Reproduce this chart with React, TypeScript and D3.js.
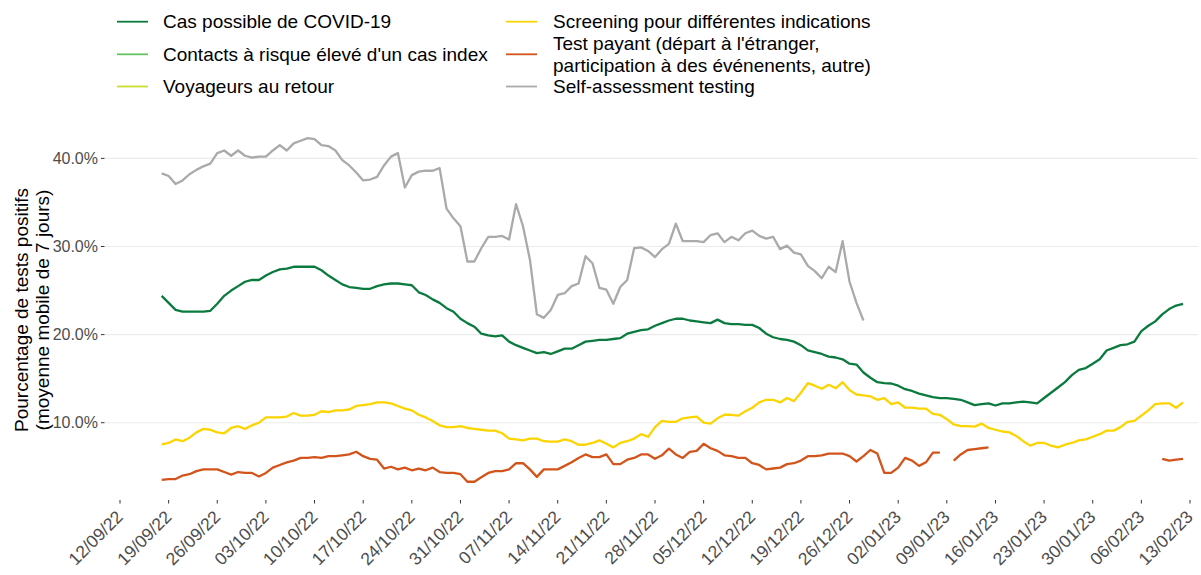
import React from "react";
import * as d3 from "d3";

// ---- Data (daily 7-day moving averages, % positive) ----
const startDate = new Date(2022, 8, 18);

const casPossible = [
  24.4, 23.6, 22.8, 22.6, 22.6, 22.6, 22.6, 22.7, 23.5, 24.4, 25.0, 25.5, 26.0, 26.2, 26.2, 26.7, 27.1, 27.4, 27.5, 27.7,
  27.7, 27.7, 27.7, 27.3, 26.7, 26.2, 25.7, 25.4, 25.3, 25.2, 25.2, 25.5, 25.7, 25.8, 25.8, 25.7, 25.6, 24.8, 24.5, 24.0,
  23.6, 23.0, 22.6, 21.8, 21.3, 20.9, 20.1, 19.9, 19.8, 19.9, 19.2, 18.8, 18.5, 18.2, 17.9, 18.0, 17.8, 18.1, 18.4, 18.4,
  18.8, 19.2, 19.3, 19.4, 19.4, 19.5, 19.6, 20.1, 20.3, 20.5, 20.6, 21.0, 21.3, 21.6, 21.8, 21.8, 21.6, 21.5,
  21.4, 21.3, 21.7, 21.3, 21.2, 21.2, 21.1, 21.1, 20.75, 20.1, 19.7, 19.5, 19.4, 19.2, 18.8, 18.2, 18.0, 17.8, 17.5, 17.4,
  17.2, 16.7, 16.6, 15.7, 15.1, 14.6, 14.5, 14.45, 14.2, 13.8, 13.6, 13.3, 13.1, 12.9, 12.8, 12.8, 12.7, 12.6, 12.3,
  12.0, 12.1, 12.2, 11.95, 12.2, 12.2, 12.3, 12.4, 12.3, 12.2, 12.8, 13.4, 14.0, 14.6, 15.4, 16.0, 16.2, 16.7, 17.2, 18.2,
  18.5, 18.8, 18.9, 19.2, 20.4, 21.0, 21.5, 22.3, 22.9, 23.3, 23.5,
];

const contactsRisque: (number | null)[] = [];
const voyageursRetour: (number | null)[] = [];

const screening = [
  7.55, 7.7, 8.1, 7.9, 8.3, 8.9, 9.3, 9.2, 8.9, 8.8, 9.4, 9.6, 9.3, 9.7, 10.0, 10.6, 10.6, 10.6, 10.7, 11.1,
  10.8, 10.8, 10.9, 11.3, 11.2, 11.4, 11.4, 11.5, 11.9, 12.0, 12.1, 12.3, 12.3, 12.2, 11.9, 11.6, 11.4, 10.9, 10.6,
  10.2, 9.7, 9.5, 9.5, 9.6, 9.4, 9.3, 9.2, 9.1, 9.1, 8.8, 8.2, 8.1, 8.0, 8.2, 8.2, 7.9, 7.85, 7.85, 8.1,
  7.9, 7.5, 7.5, 7.7, 8.0, 7.6, 7.2, 7.7, 7.9, 8.2, 8.7, 8.4, 9.5, 10.2, 10.1, 10.1, 10.5, 10.6, 10.7,
  10.0, 9.9, 10.5, 10.9, 10.9, 10.8, 11.3, 11.7, 12.3, 12.6, 12.6, 12.3, 12.8, 12.45, 13.4, 14.5, 14.2, 13.85, 14.3, 13.9,
  14.6, 13.7, 13.2, 13.1, 13.0, 12.6, 12.8, 12.1, 12.3, 11.7, 11.7, 11.6, 11.6, 11.0, 10.9, 10.4, 9.8, 9.6, 9.6,
  9.55, 9.9, 9.4, 9.2, 9.0, 8.9, 8.5, 7.9, 7.4, 7.7, 7.7, 7.4, 7.2, 7.5, 7.7, 8.0, 8.1, 8.4, 8.7, 9.1,
  9.1, 9.5, 10.1, 10.2, 10.8, 11.4, 12.1, 12.2, 12.2, 11.7, 12.3,
];

const testPayant: (number | null)[] = [
  3.5, 3.6, 3.6, 4.0, 4.15, 4.5, 4.7, 4.7, 4.7, 4.4, 4.1, 4.4, 4.3, 4.3, 3.9, 4.3, 4.9, 5.2, 5.5, 5.7,
  6.0, 6.0, 6.1, 6.0, 6.2, 6.2, 6.3, 6.4, 6.7, 6.2, 5.9, 5.8, 4.8, 5.0, 4.7, 4.9, 4.6, 4.8, 4.6,
  4.9, 4.4, 4.3, 4.3, 4.15, 3.3, 3.3, 3.8, 4.3, 4.5, 4.5, 4.7, 5.4, 5.4, 4.7, 3.85, 4.7, 4.7, 4.7, 5.1,
  5.5, 6.0, 6.4, 6.1, 6.1, 6.4, 5.3, 5.3, 5.8, 6.0, 6.4, 6.4, 5.9, 6.3, 7.05, 6.4, 6.0, 6.7, 6.8,
  7.6, 7.1, 6.8, 6.3, 6.2, 6.0, 6.0, 5.4, 5.2, 4.7, 4.8, 4.9, 5.3, 5.4, 5.7, 6.2, 6.2, 6.3, 6.5, 6.5,
  6.5, 6.2, 5.6, 6.2, 6.9, 6.5, 4.3, 4.3, 4.9, 6.0, 5.7, 5.1, 5.5, 6.6, 6.6, null, 5.7, 6.4, 6.9,
  7.0, 7.1, 7.2, null, null, null, null, null, null, null, null, null, null, null, null, null, null, null, null, null,
  null, null, null, null, null, null, null, 5.9, 5.7, 5.8, 5.9,
];

const selfAssessment = [
  38.3, 38.0, 37.1, 37.5, 38.2, 38.7, 39.1, 39.4, 40.6, 40.9, 40.3, 40.9, 40.3, 40.1, 40.2, 40.2, 40.9, 41.5, 40.9, 41.7,
  42.0, 42.3, 42.2, 41.5, 41.4, 40.9, 39.8, 39.2, 38.4, 37.5, 37.6, 37.9, 39.2, 40.2, 40.6, 36.7, 38.1, 38.5, 38.6,
  38.6, 38.9, 34.3, 33.2, 32.3, 28.3, 28.3, 29.8, 31.1, 31.1, 31.2, 30.8, 34.8, 32.3, 28.5, 22.3, 21.9, 22.8, 24.5, 24.7,
  25.5, 25.8, 28.9, 28.1, 25.3, 25.1, 23.5, 25.4, 26.2, 29.8, 29.9, 29.5, 28.8, 29.7, 30.3, 32.6, 30.6, 30.6, 30.6,
  30.5, 31.3, 31.5, 30.5, 31.1, 30.7, 31.5, 31.8, 31.2, 30.9, 31.1, 29.7, 30.1, 29.3, 29.1, 27.8, 27.2, 26.4, 27.7, 27.1,
  30.6, 26.0, 23.6, 21.6,
];

const yTicks = [10, 20, 30, 40];

const seriesNames = [
  "Cas possible de COVID-19",
  "Contacts à risque élevé d'un cas index",
  "Voyageurs au retour",
  "Screening pour différentes indications",
  "Test payant (départ à l'étranger,\nparticipation à des événenents, autre)",
  "Self-assessment testing",
];
const seriesColors = ["#0b7a3e", "#63c463", "#cadc2c", "#fcd400", "#d2541b", "#aaaaaa"];
const seriesValues: (number | null)[][] = [
  casPossible,
  contactsRisque,
  voyageursRetour,
  screening,
  testPayant,
  selfAssessment,
];
// draw order: grey first (behind), then others
const drawOrder = [5, 4, 3, 2, 1, 0];

const FONT = "'Liberation Sans', Arial, Helvetica, sans-serif";

export default function App() {
  const W = 1201;
  const H = 575;

  const x = d3
    .scaleTime()
    .domain([new Date(2022, 8, 12), new Date(2023, 1, 13)])
    .range([120, 1190]);
  const y = d3.scaleLinear().domain([0, 40]).range([510.8, 158.4]);

  const panelLeft = 105;
  const panelRight = 1198;
  const panelBottom = 500;

  const xTicks = x.ticks(d3.timeMonday.every(1) as any);
  const fmt = d3.timeFormat("%d/%m/%y");

  const lineGen = d3
    .line<number | null>()
    .defined((d) => d !== null && d !== undefined)
    .x((_, i) => x(d3.timeDay.offset(startDate, i)))
    .y((d) => y(d as number));

  // legend layout
  const legendCols = [
    { keyX: 117, textX: 163 },
    { keyX: 506, textX: 553 },
  ];
  const legendRowsY = [21.7, 54.3, 86.5];

  return (
    <svg
      width={W}
      height={H}
      style={{ position: "absolute", left: 0, top: 0, background: "#fff" }}
      fontFamily={FONT}
    >
      <rect x={0} y={0} width={W} height={H} fill="#fff" />
      {/* gridlines */}
      {yTicks.map((t) => (
        <line
          key={"g" + t}
          x1={panelLeft}
          x2={panelRight}
          y1={y(t)}
          y2={y(t)}
          stroke="#ebebeb"
          strokeWidth={1.1}
        />
      ))}
      {/* y ticks and labels */}
      {yTicks.map((t) => (
        <g key={"yt" + t}>
          <line x1={101} x2={104.5} y1={y(t)} y2={y(t)} stroke="#333" strokeWidth={1} />
          <text
            x={98}
            y={y(t)}
            dy="0.35em"
            textAnchor="end"
            fontSize={16}
            fill="#4d4d4d"
          >
            {t.toFixed(1) + "%"}
          </text>
        </g>
      ))}
      {/* x ticks and labels */}
      {xTicks.map((d, i) => {
        const px = x(d);
        return (
          <g key={"xt" + i}>
            <line x1={px} x2={px} y1={panelBottom} y2={panelBottom + 3.5} stroke="#333" strokeWidth={1} />
            <text
              transform={`translate(${px + 4},${panelBottom + 18}) rotate(-45)`}
              textAnchor="end"
              fontSize={17.5}
              fill="#4d4d4d"
            >
              {fmt(d)}
            </text>
          </g>
        );
      })}
      {/* y axis title */}
      <g transform="translate(0,310) rotate(-90)">
        <text x={0} y={27.5} textAnchor="middle" fontSize={19} fill="#000">
          Pourcentage de tests positifs
        </text>
        <text x={0} y={48.5} textAnchor="middle" fontSize={19} fill="#000">
          (moyenne mobile de 7 jours)
        </text>
      </g>
      {/* series lines */}
      {drawOrder.map((si) => {
        const vals = seriesValues[si];
        if (!vals.length) return null;
        return (
          <path
            key={"s" + si}
            d={lineGen(vals) || ""}
            fill="none"
            stroke={seriesColors[si]}
            strokeWidth={2.3}
            strokeLinejoin="round"
            strokeLinecap="butt"
          />
        );
      })}
      {/* legend */}
      {seriesNames.map((name, si) => {
        const col = legendCols[Math.floor(si / 3)];
        const cy = legendRowsY[si % 3];
        const lines = name.split("\n");
        return (
          <g key={"lg" + si}>
            <line
              x1={col.keyX}
              x2={col.keyX + 31}
              y1={cy}
              y2={cy}
              stroke={seriesColors[si]}
              strokeWidth={1.8}
            />
            {lines.map((ln, li) => (
              <text
                key={li}
                x={col.textX}
                y={cy + (li - (lines.length - 1) / 2) * 21.5}
                dy="0.35em"
                fontSize={19}
                fill="#000"
              >
                {ln}
              </text>
            ))}
          </g>
        );
      })}
    </svg>
  );
}
